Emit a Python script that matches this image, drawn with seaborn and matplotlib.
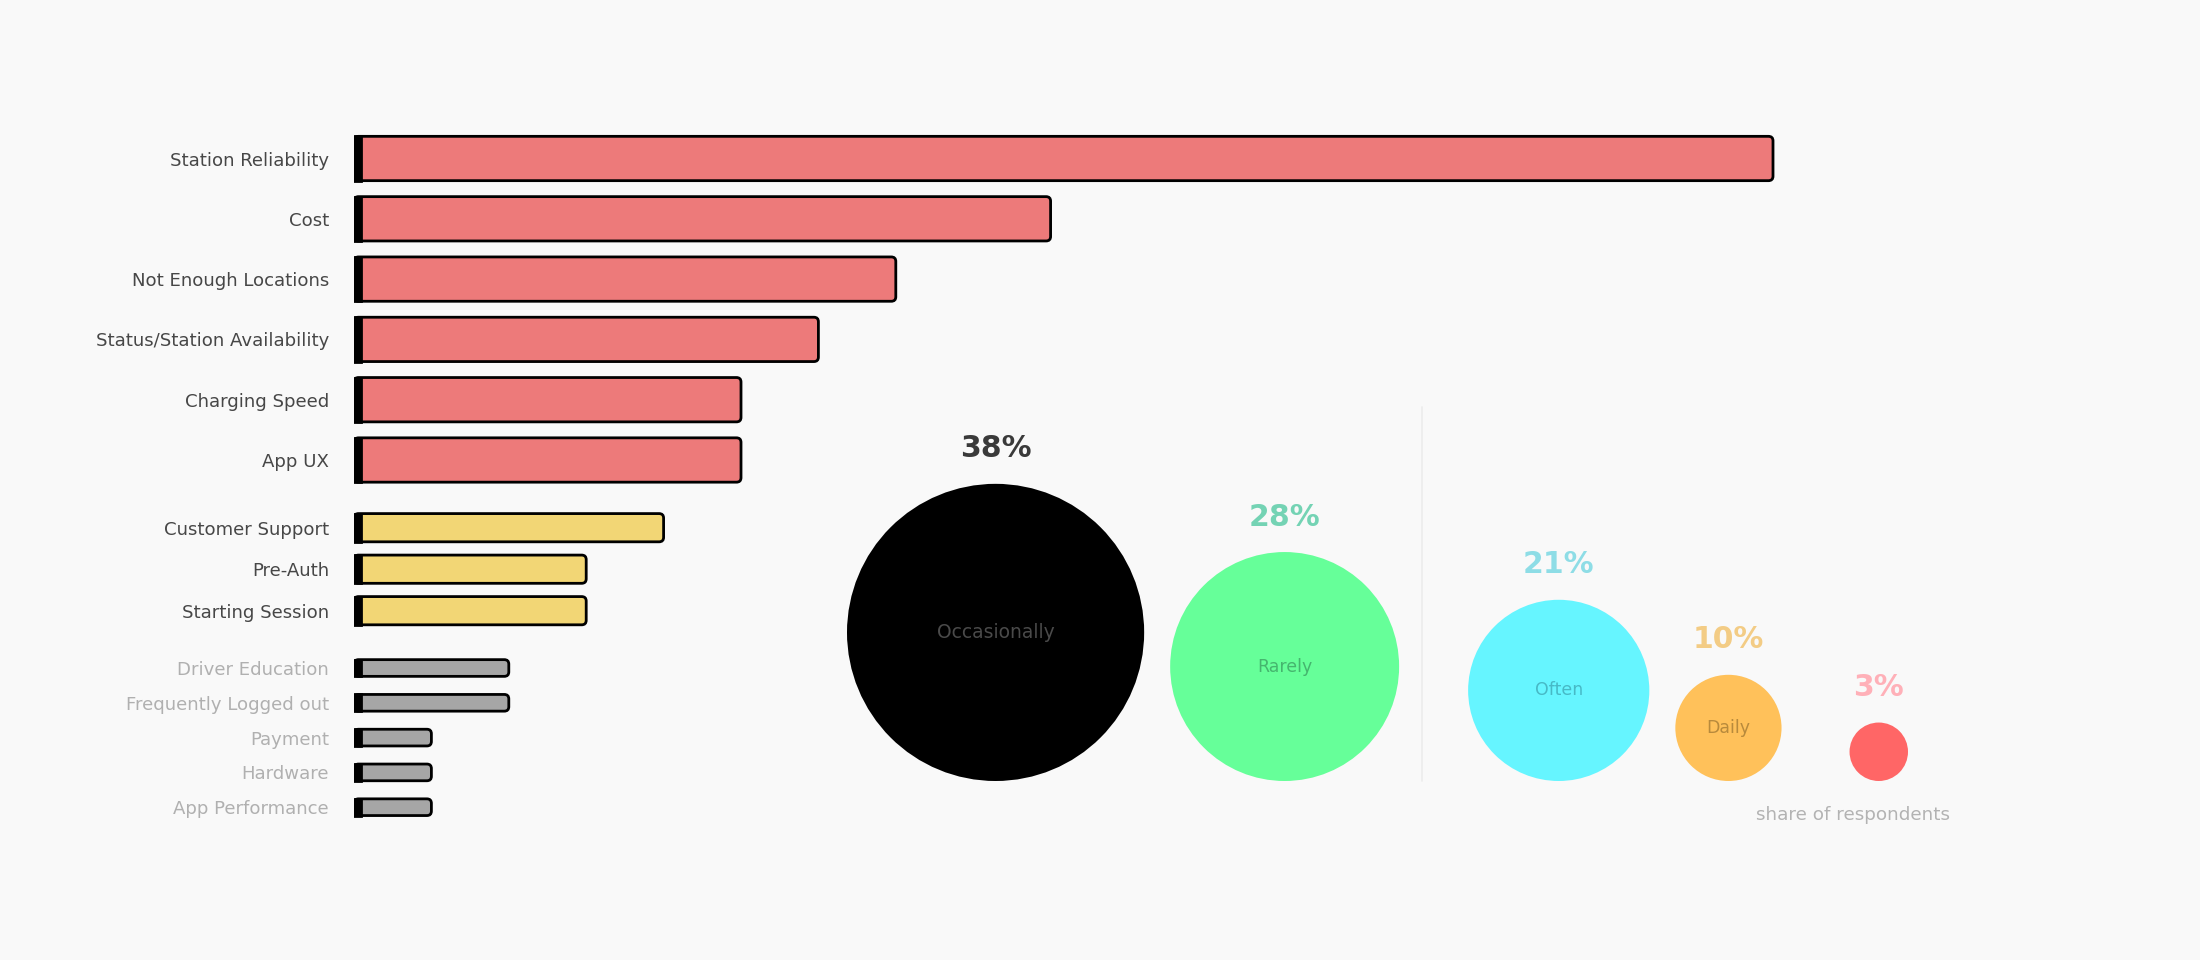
import matplotlib
matplotlib.use("Agg")
import matplotlib.pyplot as plt
from matplotlib.patches import FancyBboxPatch
import seaborn as sns
import pandas as pd

# ---------------- data ----------------
critical_issues = ["Station Reliability", "Cost", "Not Enough Locations",
                   "Status/Station Availability", "Charging Speed", "App UX"]
critical_counts = [55, 27, 21, 18, 15, 15]

moderate_issues = ["Customer Support", "Pre-Auth", "Starting Session"]
moderate_counts = [12, 9, 9]

minor_issues = ["Driver Education", "Frequently Logged out", "Payment",
                "Hardware", "App Performance"]
minor_counts = [6, 6, 3, 3, 3]

freq_labels = ["Occasionally", "Rarely", "Often", "Daily", "Never"]
freq_share = [38, 28, 21, 10, 3]
footnote = "share of respondents"

# ---------------- style ----------------
BG = "#f9f9f9"
W, H, DPI = 2200, 960, 100
sns.set_theme(style="white")
plt.rcParams["font.family"] = ["DejaVu Sans"]

fig = plt.figure(figsize=(W / DPI, H / DPI), dpi=DPI, facecolor=BG)

# ---------------- bubbles ----------------
cax = fig.add_axes([0, 0, 1, 1])
cax.set_xlim(0, W)
cax.set_ylim(H, 0)
cax.axis("off")
cax.patch.set_alpha(0)

circle_colors = ["#000000", "#66ff99", "#66f5ff", "#ffc15a", "#ff6666"]
pct_colors = ["#3a3a3a", "#74d3b4", "#8edde6", "#f3cc85", "#ffb0b8"]
inner_colors = ["#4a4a4a", "#45b56e", "#47b9c6", "#b88a3c", "#ff6666"]
gaps = [26, 69, 26, 68]
baseline = 781
left_edge = 847

radii = [19.0 + 3.41 * v for v in freq_share]
cx, cy = [], []
x = left_edge
for i, r in enumerate(radii):
    if i > 0:
        x += gaps[i - 1]
    cx.append(x + r)
    cy.append(baseline - r)
    x += 2 * r

sizes = {lab: (2 * r * 72 / DPI) ** 2 for lab, r in zip(freq_labels, radii)}
bdf = pd.DataFrame({"x": cx, "y": cy, "label": freq_labels})
sns.scatterplot(data=bdf, x="x", y="y", hue="label", size="label",
                palette=dict(zip(freq_labels, circle_colors)), sizes=sizes,
                linewidth=0, legend=False, ax=cax)
cax.set_xlabel("")
cax.set_ylabel("")

for i, (lab, v) in enumerate(zip(freq_labels, freq_share)):
    top = cy[i] - radii[i]
    cax.text(cx[i], top - 35, f"{v}%", ha="center", va="center",
             fontsize=21.5, fontweight="bold", color=pct_colors[i])
    if radii[i] > 45:
        cax.text(cx[i], cy[i], lab, ha="center", va="center",
                 fontsize=13.5 if i == 0 else 12.5, color=inner_colors[i])

div_x = (cx[1] + radii[1] + cx[2] - radii[2]) / 2 - 12
cax.plot([div_x, div_x], [407, baseline], color="#ececec", lw=1.2)
cax.text(1853, 815, footnote, ha="center", va="center", fontsize=13.2,
         color="#b3b3b3")

# ---------------- bars ----------------
X0 = 354        # left edge of bars in px
PPU = 25.8      # px per count unit
XMAX = 60
STRIP = 0.28
ROUND_PX = 4.5

groups = [
    (critical_issues, critical_counts, "#ed7a7a", "#474747", 158.5, 60.3, 0.735),
    (moderate_issues, moderate_counts, "#f2d675", "#474747", 527.7, 41.5, 0.68),
    (minor_issues, minor_counts, "#a6a6a6", "#b0b0b0", 668.0, 34.8, 0.48),
]

for names, counts, color, lab_color, first, pitch, width in groups:
    n = len(names)
    top_px = first - pitch / 2
    ax = fig.add_axes([X0 / W, 1 - (top_px + n * pitch) / H,
                       XMAX * PPU / W, n * pitch / H])
    ax.patch.set_alpha(0)
    df = pd.DataFrame({"issue": names, "count": counts})
    sns.barplot(data=df, x="count", y="issue", orient="y", color=color,
                saturation=1, width=width, edgecolor="black", linewidth=2.0,
                ax=ax)
    # round the bar corners
    for p in list(ax.patches):
        bx, by, bw, bh = p.get_x(), p.get_y(), p.get_width(), p.get_height()
        fb = FancyBboxPatch((bx, by), bw, bh,
                            boxstyle=f"round,pad=0,rounding_size={ROUND_PX / PPU}",
                            mutation_aspect=PPU / pitch,
                            facecolor=p.get_facecolor(), edgecolor="black",
                            linewidth=2.0, zorder=p.get_zorder())
        p.remove()
        ax.add_patch(fb)
    sdf = pd.DataFrame({"issue": names, "count": [STRIP] * n})
    sns.barplot(data=sdf, x="count", y="issue", orient="y", color="black",
                saturation=1, width=width, edgecolor="black", linewidth=2.0,
                ax=ax)
    ax.set_xlim(0, XMAX)
    ax.set_ylim(n - 0.5, -0.5)
    ax.set_xlabel("")
    ax.set_ylabel("")
    ax.set_xticks([])
    sns.despine(ax=ax, left=True, bottom=True)
    ax.tick_params(axis="y", length=0, pad=18, labelsize=13.1,
                   labelcolor=lab_color)

fig.savefig("out.png", dpi=DPI, facecolor=BG)
